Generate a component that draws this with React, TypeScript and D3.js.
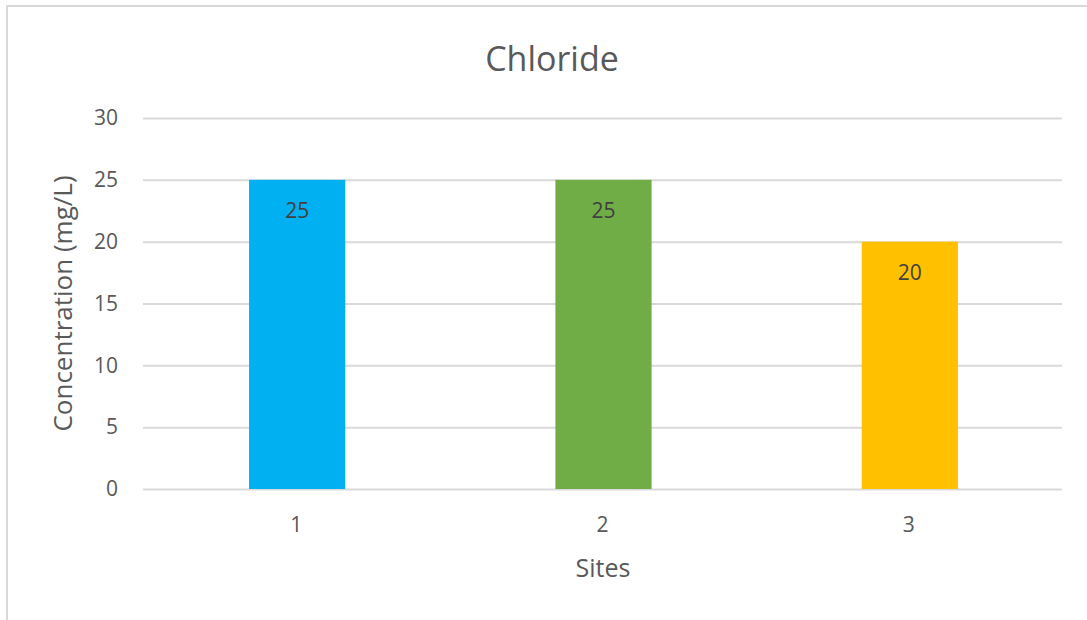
import React, { useEffect, useRef } from "react";
import * as d3 from "d3";

const sites = ["1", "2", "3"];
const chloride = [25, 25, 20];
const barColors = ["#00b0f0", "#70ad47", "#ffc000"];
const yTicks = [0, 5, 10, 15, 20, 25, 30];

const App: React.FC = () => {
  const svgRef = useRef<SVGSVGElement | null>(null);

  useEffect(() => {
    const width = 1087;
    const height = 620;
    const margin = { top: 118, right: 25, bottom: 131, left: 143 };
    const font = "'Open Sans', 'Noto Sans', sans-serif";

    const svg = d3.select(svgRef.current);
    svg.selectAll("*").remove();
    svg.attr("width", width).attr("height", height);

    // chart frame (only top and left edges visible)
    svg
      .append("rect")
      .attr("x", 7)
      .attr("y", 6)
      .attr("width", width + 20)
      .attr("height", height + 20)
      .attr("fill", "white")
      .attr("stroke", "#d9d9d9")
      .attr("stroke-width", 2);

    const x = d3
      .scaleBand()
      .domain(sites)
      .range([margin.left, width - margin.right])
      .paddingInner(0.686)
      .paddingOuter(0.343);

    const y = d3
      .scaleLinear()
      .domain([0, 30])
      .range([height - margin.bottom, margin.top]);

    // Gridlines
    svg
      .append("g")
      .attr("transform", `translate(${margin.left},0)`)
      .call(
        d3
          .axisLeft(y)
          .tickValues(yTicks)
          .tickSize(-(width - margin.left - margin.right))
          .tickFormat(() => "")
      )
      .call(g => g.select(".domain").remove())
      .call(g => g.selectAll("line").attr("stroke", "#d9d9d9").attr("stroke-width", 2));

    // Y labels
    svg
      .append("g")
      .attr("transform", `translate(${margin.left - 25},0)`)
      .call(d3.axisLeft(y).tickValues(yTicks).tickSize(0).tickPadding(0))
      .call(g => g.select(".domain").remove())
      .call(g =>
        g
          .selectAll("text")
          .attr("font-family", font)
          .attr("font-size", 21)
          .attr("fill", "#595959")
      );

    // Bars
    svg
      .append("g")
      .selectAll("rect")
      .data(chloride)
      .join("rect")
      .attr("x", (d, i) => x(sites[i])! + 1)
      .attr("y", d => y(d))
      .attr("width", x.bandwidth())
      .attr("height", d => y(0) - y(d))
      .attr("fill", (d, i) => barColors[i]);

    // Value labels
    svg
      .append("g")
      .selectAll("text")
      .data(chloride)
      .join("text")
      .attr("x", (d, i) => x(sites[i])! + 1 + x.bandwidth() / 2)
      .attr("y", d => y(d) + 38)
      .attr("text-anchor", "middle")
      .attr("font-family", font)
      .attr("font-size", 21)
      .attr("fill", "#404040")
      .text(d => d);

    // X labels
    svg
      .append("g")
      .attr("transform", `translate(0,${height - margin.bottom + 28})`)
      .call(d3.axisBottom(x).tickSize(0).tickPadding(0))
      .call(g => g.select(".domain").remove())
      .call(g =>
        g
          .selectAll("text")
          .attr("font-family", font)
          .attr("font-size", 21)
          .attr("fill", "#595959")
      );

    // Title
    svg
      .append("text")
      .attr("x", 552)
      .attr("y", 71)
      .attr("text-anchor", "middle")
      .attr("font-family", font)
      .attr("font-size", 34)
      .attr("fill", "#595959")
      .text("Chloride");

    // Axis titles
    svg
      .append("text")
      .attr("x", 603)
      .attr("y", 577)
      .attr("text-anchor", "middle")
      .attr("font-family", font)
      .attr("font-size", 25)
      .attr("fill", "#595959")
      .text("Sites");

    svg
      .append("text")
      .attr("transform", `translate(72,${(margin.top + height - margin.bottom) / 2}) rotate(-90)`)
      .attr("text-anchor", "middle")
      .attr("font-family", font)
      .attr("font-size", 26)
      .attr("fill", "#595959")
      .text("Concentration (mg/L)");
  }, []);

  return (
    <svg ref={svgRef} style={{ position: "fixed", left: 0, top: 0, display: "block" }}></svg>
  );
};

export default App;
